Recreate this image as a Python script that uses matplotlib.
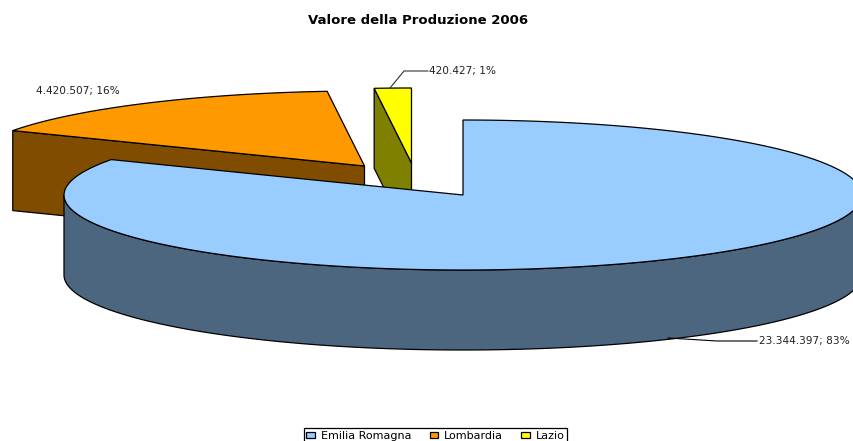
import numpy as np
import matplotlib
matplotlib.use("Agg")
import matplotlib.pyplot as plt
from matplotlib.patches import Polygon, Patch

# DejaVu is wide enough to match the stretched text of the original
plt.rcParams["font.family"] = ["DejaVu Sans"]

# ── Data ──────────────────────────────────────────────────────────────────────
regions = ["Emilia Romagna", "Lombardia", "Lazio"]
values = [23344397, 4420507, 420427]
top_colors = ["#99CCFF", "#FF9900", "#FFFF00"]
side_colors = ["#4D6680", "#804D00", "#808000"]
title = "Valore della Produzione 2006"

# ── Pie geometry (pixels) ─────────────────────────────────────────────────────
RX, RY = 399, 75
DEPTH = 80
centers = [(463, 195), (364.5, 166), (411.5, 163)]  # exploded slices have their own centre

total = sum(values)
edges = np.concatenate([[0], np.cumsum(values)]) / total * 2 * np.pi


def rim(center, a):
    return center[0] + RX * np.sin(a), center[1] - RY * np.cos(a)


def arc(center, a0, a1, n=200):
    a = np.linspace(a0, a1, n)
    return np.column_stack(rim(center, a))


def label_text(v):
    return f"{v:,}".replace(",", ".") + f"; {v / total * 100:.0f}%"


fig = plt.figure(figsize=(8.54, 4.41), dpi=100)
ax = fig.add_axes([0, 0, 1, 1])
ax.set_xlim(0, 854)
ax.set_ylim(441, 0)
ax.axis("off")

LW = 0.9

# ── Exploded slices, behind the big one ───────────────────────────────────────
for i in [1, 2]:
    c = centers[i]
    p = rim(c, edges[i])
    # cut face that looks towards the viewer
    face = [p, c, (c[0], c[1] + DEPTH), (p[0], p[1] + DEPTH)]
    ax.add_patch(Polygon(face, closed=True, fc=side_colors[i], ec="black", lw=LW, zorder=2))
    top = np.vstack([[c], arc(c, edges[i], edges[i + 1])])
    ax.add_patch(Polygon(top, closed=True, fc=top_colors[i], ec="black", lw=LW, zorder=3))

# ── Big slice ─────────────────────────────────────────────────────────────────
c = centers[0]
front = arc(c, np.pi / 2, 3 * np.pi / 2)
wall = np.vstack([front, front[::-1] + [0, DEPTH]])
ax.add_patch(Polygon(wall, closed=True, fc=side_colors[0], ec="black", lw=LW, zorder=4))
top = np.vstack([[c], arc(c, edges[0], edges[1])])
ax.add_patch(Polygon(top, closed=True, fc=top_colors[0], ec="black", lw=LW, zorder=5))

# ── Labels and leader lines ───────────────────────────────────────────────────
ax.plot([668, 717, 757], [338, 341, 341], color="black", lw=0.8, zorder=6)
ax.plot([390, 404, 428], [88, 71, 71], color="#333333", lw=0.8, zorder=6)
label_size = 7.6
ax.text(759, 341, label_text(values[0]), fontsize=label_size, va="center", color="#222222", zorder=7)
ax.text(36, 91, label_text(values[1]), fontsize=label_size, va="center", color="#222222", zorder=7)
ax.text(429, 71, label_text(values[2]), fontsize=label_size, va="center", color="#222222", zorder=7)

ax.text(418, 20, title, fontsize=9.5, fontweight="bold", ha="center", va="center")

# ── Legend, frame runs off the bottom edge as in the original ─────────────────
handles = [Patch(fc=col, ec="black", lw=0.9) for col in top_colors]
leg = ax.legend(
    handles, regions, ncol=3, loc="upper center",
    bbox_to_anchor=(435.5, 428), bbox_transform=ax.transData,
    fontsize=8.0, frameon=True, fancybox=False, framealpha=1, edgecolor="black",
    handlelength=0.8, handleheight=0.55, handletextpad=0.5, columnspacing=1.65,
    borderpad=0.25, borderaxespad=0, labelspacing=0,
)
leg.get_frame().set_linewidth(0.9)

plt.savefig("out.png", dpi=100)
